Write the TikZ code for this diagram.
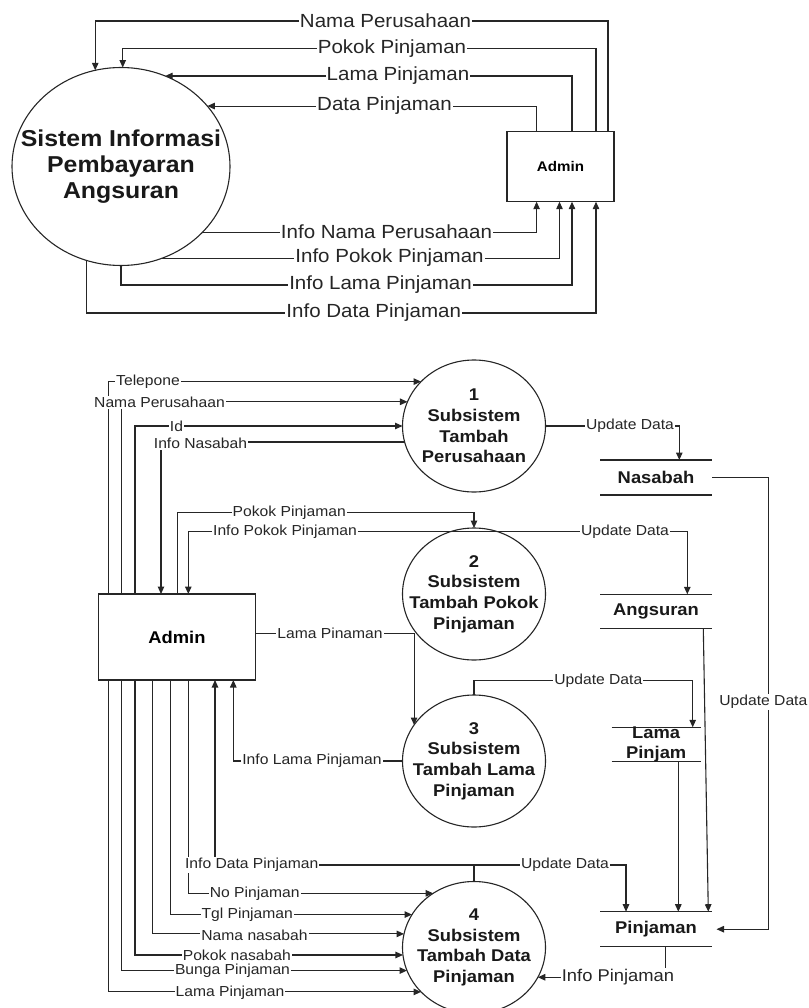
\documentclass[tikz,border=0pt]{standalone}
\usepackage{fontspec}
\setmainfont{Liberation Sans}[FakeStretch=1.08]
\usetikzlibrary{arrows.meta,shapes.geometric}
\tikzset{
  flow/.style={draw=black!85, line width=1.1pt, -{Triangle[length=7.5pt,width=6.5pt]}},
  plain/.style={draw=black!85, line width=1.1pt},
  proc/.style={ellipse, draw=black!85, line width=1.1pt, fill=white, inner sep=0pt, outer sep=0pt, minimum width=143pt, minimum height=132pt},
  ptext/.style={align=center, font=\fontsize{17}{20.7}\selectfont\bfseries, text=black!90},
  lbl/.style={fill=white, inner xsep=1pt, inner ysep=1.2pt, font=\fontsize{14.5}{16}\selectfont, text=black!85},
  tlbl/.style={lbl, font=\fontsize{19}{21}\selectfont},
  ent/.style={rectangle, draw=black!85, line width=1.1pt, fill=white, inner sep=0pt, outer sep=0pt},
  storebox/.style={inner sep=0pt, outer sep=0pt},
}
\begin{document}
\begin{tikzpicture}[x=1pt,y=-1pt]
\useasboundingbox (0,0) rectangle (808,1008);
% ---------------- top diagram ----------------
\node[proc, minimum width=218pt, minimum height=198pt] (S) at (121,166.5) {};
\node[ptext, font=\fontsize{23}{25.8}\selectfont\bfseries] (St) at (S) {Sistem Informasi\\Pembayaran\\Angsuran};
\node[ent, minimum width=107pt, minimum height=70pt, font=\fontsize{14}{16}\selectfont\bfseries] (T) at (560.5,166.7) {Admin};

\coordinate (tNc) at (385.5,21);
\coordinate (tPc) at (392,48.5);
\coordinate (tLc) at (398,76);
\coordinate (tDc) at (384.5,105.5);
\coordinate (tINc) at (386.5,232);
\coordinate (tIPc) at (389.5,258);
\coordinate (tILc) at (380.5,285);
\coordinate (tIDc) at (373.7,313);

\draw[flow] ([xshift=101pt]T.north west) |- (tNc) -| (S.105.1);
\draw[flow] ([xshift=89pt]T.north west) |- (tPc) -| (S.89.2);
\draw[flow] ([xshift=65pt]T.north west) |- (S.64);
\draw[flow] ([xshift=29.6pt]T.north west) |- (S.35.4);
\draw[flow] (S.321.3) -| ([xshift=29.6pt]T.south west);
\draw[flow] (S.294.45) -| ([xshift=52.5pt]T.south west);
\draw[flow] (S.south) |- (tILc) -| ([xshift=65pt]T.south west);
\draw[flow] (S.250.6) |- (tIDc) -| ([xshift=89pt]T.south west);

\node[tlbl] (tN) at (tNc) {Nama Perusahaan};
\node[tlbl] (tP) at (tPc) {Pokok Pinjaman};
\node[tlbl] (tL) at (tLc) {Lama Pinjaman};
\node[tlbl] (tD) at (tDc) {Data Pinjaman};
\node[tlbl] (tIN) at (tINc) {Info Nama Perusahaan};
\node[tlbl] (tIP) at (tIPc) {Info Pokok Pinjaman};
\node[tlbl] (tIL) at (tILc) {Info Lama Pinjaman};
\node[tlbl] (tID) at (tIDc) {Info Data Pinjaman};

% ---------------- bottom diagram ----------------
\node[ent, minimum width=157.4pt, minimum height=86pt, font=\fontsize{17}{20}\selectfont\bfseries] (A) at (177,637) {Admin};
\node[proc] (C1) at (474,426) {};
\node[ptext] (C1t) at (C1) {1\\Subsistem\\Tambah\\Perusahaan};
\node[proc] (C2) at (474,594) {};
\node[ptext] (C2t) at (C2) {2\\Subsistem\\Tambah Pokok\\Pinjaman};
\node[proc] (C3) at (474,761) {};
\node[ptext] (C3t) at (C3) {3\\Subsistem\\Tambah Lama\\Pinjaman};
\node[proc] (C4) at (474,947.5) {};
\node[ptext] (C4t) at (C4) {4\\Subsistem\\Tambah Data\\Pinjaman};

\node[storebox, minimum width=112pt, minimum height=35pt] (N) at (656,477.5) {};
\node[storebox, minimum width=112pt, minimum height=34pt] (G) at (656,611.3) {};
\node[storebox, minimum width=89pt, minimum height=34.4pt] (L) at (656.2,744.5) {};
\node[storebox, minimum width=112pt, minimum height=35pt] (P) at (656,929.2) {};
\foreach \s in {N,G,L,P}{
  \draw[plain] (\s.north west) -- (\s.north east) (\s.south west) -- (\s.south east);
}
\node[ptext, font=\fontsize{17}{20}\selectfont\bfseries] (Nt) at (N) {Nasabah};
\node[ptext, font=\fontsize{17}{20}\selectfont\bfseries] (Gt) at (G) {Angsuran};
\node[ptext, font=\fontsize{17}{20}\selectfont\bfseries] (Lt) at (L) {Lama\\Pinjam};
\node[ptext, font=\fontsize{17}{20}\selectfont\bfseries] (Pt) at (P) {Pinjaman};

\coordinate (lTel) at (148,381.7);
\coordinate (lNP) at (159.5,402.7);
\coordinate (lId) at (176.5,426);
\coordinate (lIN) at (200.5,443);
\coordinate (lPP) at (289.3,512.7);
\coordinate (lIPP) at (285,531.7);
\coordinate (lUD1) at (630,426);
\coordinate (lUD2) at (625,531.7);
\coordinate (lLPn) at (330,633.5);
\coordinate (lUD3) at (598.3,680.7);
\coordinate (lILP) at (312,761);
\coordinate (lUDv) at (768.3,701.7);
\coordinate (lIDP) at (251.7,865);
\coordinate (lUD4) at (565,865);
\coordinate (lNo) at (254.7,893.3);
\coordinate (lTgl) at (247.2,915);
\coordinate (lNn) at (254.5,935);
\coordinate (lPn) at (236.8,955);
\coordinate (lBP) at (232.5,970.7);
\coordinate (lLP) at (230,992.3);
\coordinate (lIP) at (618,976.7);

\draw[flow] ([xshift=10pt]A.north west) |- (C1.140.1);
\draw[flow] ([xshift=23.4pt]A.north west) |- (C1.160.8);
\draw[flow] ([xshift=36.7pt]A.north west) |- (C1.west);
\draw[flow] (C1.193.8) -| ([xshift=62.7pt]A.north west);
\draw[flow] ([xshift=79pt]A.north west) |- (lPP) -| (C2.north);
\draw[flow] (C2.69.25) -| ([xshift=90pt]A.north west);
\draw[flow] (C1.east) -| ([xshift=79.3pt]N.north west);
\draw[flow] (C2.69.25) -| ([xshift=87.3pt]G.north west);
\draw[flow] ([yshift=3.5pt]A.east) -| (C3.149.1);
\draw[flow] (C3.north) |- (lUD3) -| ([xshift=81pt]L.north west);
\draw[flow] (C3.west) -| ([xshift=135pt]A.south west);
\draw[flow] (C4.north) |- (lIDP) -| ([xshift=116.7pt]A.south west);
\draw[flow] (C4.north) |- (lUD4) -| ([xshift=26pt]P.north west);
\draw[flow] ([xshift=90pt]A.south west) |- (C4.127);
\draw[flow] ([xshift=72.4pt]A.south west) |- (C4.152.4);
\draw[flow] ([xshift=54.4pt]A.south west) |- (C4.169.9);
\draw[flow] ([xshift=36.7pt]A.south west) |- (C4.186);
\draw[flow] ([xshift=23.4pt]A.south west) |- (C4.199.1);
\draw[flow] ([xshift=10pt]A.south west) |- (C4.220.5);
\draw[flow] ([xshift=65.7pt]P.south west) |- (C4.335.5);
\draw[flow] (N.east) -| (lUDv) |- ([xshift=4.5pt]P.east);
\draw[flow] ([xshift=103.3pt]G.south west) -- ([xshift=108.3pt]P.north west);
\draw[flow] ([xshift=66.6pt]L.south west) -- ([xshift=78.3pt]P.north west);

\node[lbl] (bTel) at (lTel) {Telepone};
\node[lbl] (bNP) at (lNP) {Nama Perusahaan};
\node[lbl] (bId) at (lId) {Id};
\node[lbl] (bIN) at (lIN) {Info Nasabah};
\node[lbl] (bPP) at (lPP) {Pokok Pinjaman};
\node[lbl] (bIPP) at (lIPP) {Info Pokok Pinjaman};
\node[lbl] (bUD1) at (lUD1) {Update Data};
\node[lbl] (bUD2) at (lUD2) {Update Data};
\node[lbl] (bLPn) at (lLPn) {Lama Pinaman};
\node[lbl] (bUD3) at (lUD3) {Update Data};
\node[lbl] (bILP) at (lILP) {Info Lama Pinjaman};
\node[lbl, anchor=east, inner xsep=0.5pt] (bUDv) at ([xshift=39.7pt]lUDv) {Update Data};
\node[lbl] (bIDP) at (lIDP) {Info Data Pinjaman};
\node[lbl] (bUD4) at (lUD4) {Update Data};
\node[lbl] (bNo) at (lNo) {No Pinjaman};
\node[lbl] (bTgl) at (lTgl) {Tgl Pinjaman};
\node[lbl] (bNn) at (lNn) {Nama nasabah};
\node[lbl] (bPn) at (lPn) {Pokok nasabah};
\node[lbl] (bBP) at (lBP) {Bunga Pinjaman};
\node[lbl] (bLP) at (lLP) {Lama Pinjaman};
\node[lbl, font=\fontsize{17}{19}\selectfont] (bIP) at (lIP) {Info Pinjaman};
\end{tikzpicture}
\end{document}
